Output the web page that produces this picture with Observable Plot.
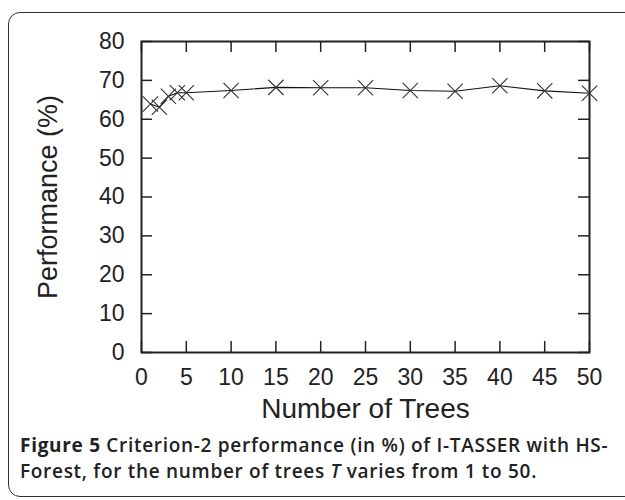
<!DOCTYPE html>
<html>
<head>
<meta charset="utf-8">
<script src="https://cdn.jsdelivr.net/npm/d3@7"></script>
<script src="https://cdn.jsdelivr.net/npm/@observablehq/plot@0.6"></script>
<style>
  html, body { margin: 0; padding: 0; background: #fff; }
  #wrap { position: relative; width: 625px; height: 500px; overflow: hidden; }
  #frame { position: absolute; left: 8px; top: 12px; width: 660px; height: 485px;
           border: 1.5px solid #333; border-radius: 12px; box-sizing: border-box; }
  #chart { position: absolute; left: 0; top: 0; }
  .cap { position: absolute; left: 20px; white-space: nowrap;
         font-family: "Open Sans", sans-serif; font-size: 19px; line-height: 26px;
         color: #222; font-weight: 600; letter-spacing: 0.7px; }
  .cap b { font-weight: 700; }
</style>
</head>
<body>
<div id="wrap">
  <div id="frame"></div>
  <div id="chart"></div>
  <div class="cap" style="top:432px"><b>Figure 5</b> Criterion-2 performance (in %) of I-TASSER with HS-</div>
  <div class="cap" style="top:458px">Forest, for the number of trees <i>T</i> varies from 1 to 50.</div>
</div>
<script>
const trees = [1, 2, 3, 4, 5, 10, 15, 20, 25, 30, 35, 40, 45, 50];
const performance = [63.9, 63.1, 65.9, 66.8, 66.8, 67.4, 68.2, 68.1, 68.1, 67.4, 67.2, 68.6, 67.3, 66.7];
const xTicks = [0, 5, 10, 15, 20, 25, 30, 35, 40, 45, 50];
const yTicks = [0, 10, 20, 30, 40, 50, 60, 70, 80];
const xLabel = "Number of Trees";
const yLabel = "Performance (%)";

const data = trees.map((t, i) => ({trees: t, perf: performance[i]}));

const W = 625, H = 432;
const mL = 141, mR = 36, mT = 41, mB = 80;
const fw = W - mL - mR, fh = H - mT - mB;
const tl = 11;
const font = "'Liberation Sans', Arial, sans-serif";
const ink = "#222";

const plot = Plot.plot({
  width: W, height: H,
  marginLeft: mL, marginRight: mR, marginTop: mT, marginBottom: mB,
  style: {fontFamily: font, color: ink, background: "transparent", overflow: "visible"},
  x: {domain: [0, 50], ticks: xTicks},
  y: {domain: [0, 80], ticks: yTicks},
  marks: [
    Plot.frame({stroke: ink, strokeWidth: 2}),
    // inward tick marks
    Plot.tickX(xTicks, {x: d => d, stroke: ink, strokeWidth: 1.5, insetTop: fh - tl}),
    Plot.tickX(xTicks, {x: d => d, stroke: ink, strokeWidth: 1.5, insetBottom: fh - tl}),
    Plot.tickY(yTicks, {y: d => d, stroke: ink, strokeWidth: 1.5, insetRight: fw - tl}),
    Plot.tickY(yTicks, {y: d => d, stroke: ink, strokeWidth: 1.5, insetLeft: fw - tl}),
    Plot.axisX(xTicks, {anchor: "bottom", tickSize: 0, tickPadding: 16, fontSize: 23, label: null, fill: ink}),
    Plot.axisY(yTicks, {anchor: "left", tickSize: 0, tickPadding: 17, fontSize: 23, label: null, fill: ink}),
    Plot.text([xLabel], {frameAnchor: "bottom", textAnchor: "middle", dy: 65, fontSize: 28, fill: ink, text: d => d}),
    Plot.text([yLabel], {frameAnchor: "left", textAnchor: "middle", dx: -93, rotate: -90, fontSize: 27, fill: ink, text: d => d}),
    Plot.line(data, {x: "trees", y: "perf", stroke: "#111", strokeWidth: 1.1}),
    Plot.dot(data, {x: "trees", y: "perf", symbol: "times", r: 7, stroke: "#333", strokeWidth: 1.1})
  ]
});
document.getElementById("chart").appendChild(plot);
</script>
</body>
</html>
